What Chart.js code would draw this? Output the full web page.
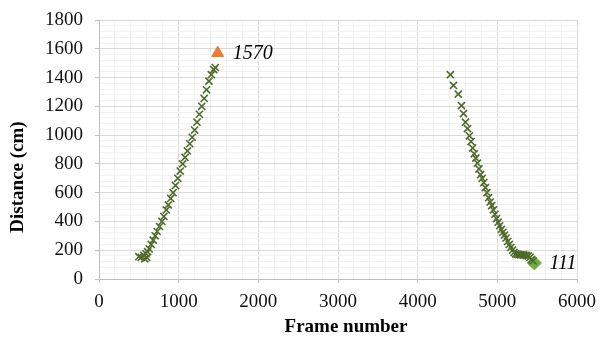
<!DOCTYPE html>
<html>
<head>
<meta charset="utf-8">
<script src="https://cdn.jsdelivr.net/npm/chart.js@4"></script>
<style>
  html, body { margin: 0; padding: 0; background: #fff; }
  #wrap { width: 600px; height: 344px; }
</style>
</head>
<body>
<div id="wrap"><canvas id="chart"></canvas></div>
<script>
// approach run (left) and departure run (right)
const approachFrames = [500, 530, 560, 575, 590, 600, 610, 630, 655, 680, 705, 730, 760, 790, 815, 845, 870, 900, 930, 960, 990, 1020, 1050, 1080, 1110, 1140, 1170, 1200, 1230, 1260, 1290, 1320, 1350, 1380, 1410, 1440, 1460];
const approachDist = [155, 150, 165, 140, 175, 150, 190, 210, 240, 270, 300, 330, 365, 400, 435, 480, 515, 560, 600, 650, 700, 750, 800, 845, 890, 940, 985, 1035, 1090, 1145, 1200, 1255, 1315, 1375, 1420, 1455, 1470];

const departFrames = [4410, 4450, 4510, 4550, 4575, 4600, 4625, 4650, 4670, 4690, 4710, 4730, 4750, 4770, 4790, 4810, 4830, 4850, 4870, 4890, 4910, 4930, 4950, 4970, 4990, 5010, 5030, 5050, 5070, 5090, 5110, 5130, 5150, 5170, 5190, 5210, 5230, 5250, 5270, 5290, 5310, 5330, 5350, 5370, 5390, 5410, 5430, 5450];
const departDist = [1420, 1345, 1285, 1205, 1150, 1090, 1045, 995, 955, 910, 870, 840, 805, 765, 725, 700, 670, 635, 600, 565, 535, 510, 480, 450, 420, 395, 370, 345, 325, 305, 285, 260, 240, 220, 200, 185, 175, 172, 170, 168, 168, 167, 165, 163, 160, 150, 135, 125];

const maxPoint = { frame: 1490, dist: 1570 };
const minPoint = { frame: 5465, dist: 111 };

const xTitle = "Frame number";
const yTitle = "Distance (cm)";

function toXY(xs, ys) {
  return xs.map((x, i) => ({ x: x, y: ys[i] }));
}

const serif = "'Liberation Serif', 'Times New Roman', serif";

// value labels next to the max / min markers, plus the axis titles
const extraText = {
  id: "extraText",
  afterDatasetsDraw(chart) {
    const ctx = chart.ctx;
    ctx.save();
    ctx.font = "italic 20px " + serif;
    ctx.fillStyle = "#000";
    ctx.textBaseline = "middle";
    ctx.textAlign = "left";
    [2, 3].forEach(i => {
      const pt = chart.getDatasetMeta(i).data[0];
      const val = chart.data.datasets[i].data[0].y;
      ctx.fillText(String(val), pt.x + 15, pt.y + 1);
    });

    ctx.font = "bold 19px " + serif;
    ctx.textAlign = "center";
    ctx.fillText(xTitle, 346, 327);
    ctx.translate(18, 177);
    ctx.rotate(-Math.PI / 2);
    ctx.fillText(yTitle, 0, 0);
    ctx.restore();
  }
};

new Chart(document.getElementById("chart"), {
  type: "scatter",
  data: {
    datasets: [
      {
        label: "Approach",
        data: toXY(approachFrames, approachDist),
        pointStyle: "crossRot",
        pointRadius: 5,
        pointBorderWidth: 1.6,
        borderColor: "#4f6b2c",
        backgroundColor: "#4f6b2c"
      },
      {
        label: "Departure",
        data: toXY(departFrames, departDist),
        pointStyle: "crossRot",
        pointRadius: 5,
        pointBorderWidth: 1.6,
        borderColor: "#4f6b2c",
        backgroundColor: "#4f6b2c"
      },
      {
        label: "Max",
        data: [{ x: maxPoint.frame, y: maxPoint.dist }],
        pointStyle: "triangle",
        pointRadius: 7,
        borderColor: "#ed7d31",
        backgroundColor: "#ed7d31"
      },
      {
        label: "Min",
        data: [{ x: minPoint.frame, y: minPoint.dist }],
        pointStyle: "rectRot",
        pointRadius: 7,
        borderColor: "#70ad47",
        backgroundColor: "#70ad47"
      }
    ]
  },
  options: {
    responsive: true,
    maintainAspectRatio: false,
    animation: false,
    layout: {
      padding: { top: 20, right: 23, left: 0, bottom: 0 }
    },
    plugins: {
      legend: { display: false },
      tooltip: { enabled: false }
    },
    scales: {
      x: {
        type: "linear",
        min: 0,
        max: 6000,
        afterFit: s => {
          s.height = 65;
          s.paddingLeft = 0;
          s.paddingRight = 0;
        },
        border: { color: "#bfbfbf" },
        grid: {
          color: c => (c.tick.value % 1000 === 0 ? "#d9d9d9" : "#f2f2f2"),
          tickColor: c => (c.tick.value % 1000 === 0 ? "#bfbfbf" : "rgba(0,0,0,0)"),
          tickLength: 4
        },
        ticks: {
          stepSize: 200,
          autoSkip: false,
          maxRotation: 0,
          padding: 8,
          color: "#111",
          font: { family: serif, size: 19 },
          callback: v => (v % 1000 === 0 ? String(v) : "")
        }
      },
      y: {
        min: 0,
        max: 1800,
        afterFit: s => {
          s.width = 99;
          s.paddingTop = 0;
          s.paddingBottom = 0;
        },
        border: { color: "#bfbfbf" },
        grid: {
          color: c => (c.tick.value % 200 === 0 ? "#d9d9d9" : "#f2f2f2"),
          tickColor: c => (c.tick.value % 200 === 0 ? "#bfbfbf" : "rgba(0,0,0,0)"),
          tickLength: 4
        },
        ticks: {
          stepSize: 40,
          autoSkip: false,
          padding: 12,
          color: "#111",
          font: { family: serif, size: 19 },
          callback: v => (v % 200 === 0 ? String(v) : "")
        }
      }
    }
  },
  plugins: [extraText]
});
</script>
</body>
</html>
